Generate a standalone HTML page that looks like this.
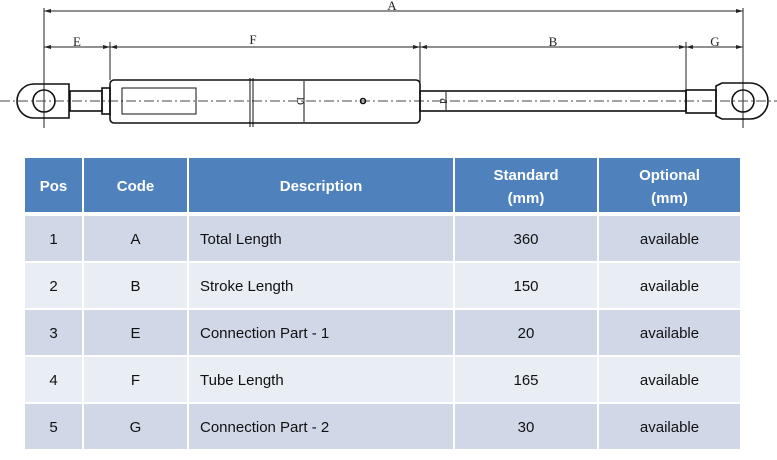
<!DOCTYPE html>
<html><head><meta charset="utf-8"><style>
body{margin:0;width:777px;height:460px;background:#fff;position:relative;overflow:hidden;font-family:"Liberation Sans",sans-serif}
.c{position:absolute;display:flex;align-items:center;justify-content:center;font-size:15px;color:#111;text-align:center;padding-top:2px;box-sizing:border-box}
.h{background:#4f81bd;color:#fff;font-weight:bold;line-height:23px;padding-top:3px}
.o{background:#d0d8e8}.e{background:#e9edf4}
.l{justify-content:flex-start;padding-left:11px}
</style></head><body>
<svg width="777" height="150" style="position:absolute;left:0;top:0" font-family="Liberation Serif" font-size="13">
<g stroke="#222" stroke-width="1" fill="none">
<line x1="44" y1="8" x2="44" y2="128"/><line x1="743" y1="8" x2="743" y2="128"/>
<line x1="110" y1="42" x2="110" y2="80"/><line x1="420" y1="42" x2="420" y2="82"/><line x1="686" y1="42" x2="686" y2="90"/>
<line x1="44" y1="11" x2="743" y2="11"/>
<line x1="44" y1="47" x2="743" y2="47"/>
</g>
<g fill="#222">
<path d="M44 11 l7 -2 v4z"/><path d="M743 11 l-7 -2 v4z"/>
<path d="M44 47 l7 -2 v4z"/><path d="M110 47 l-7 -2 v4z"/><path d="M110 47 l7 -2 v4z"/>
<path d="M420 47 l-7 -2 v4z"/><path d="M420 47 l7 -2 v4z"/><path d="M686 47 l-7 -2 v4z"/><path d="M686 47 l7 -2 v4z"/><path d="M743 47 l-7 -2 v4z"/>
</g>
<g fill="#222" text-anchor="middle">
<text x="392" y="10">A</text><text x="77" y="46">E</text><text x="253" y="44">F</text><text x="553" y="46">B</text><text x="715" y="46">G</text>
</g>
<line x1="0" y1="101" x2="777" y2="101" stroke="#444" stroke-dasharray="10,3,2,3"/>
<g stroke="#111" stroke-width="1.6" fill="none">
<path d="M34 84 h35 v34 h-35 a17 17 0 0 1 0 -34z"/>
<circle cx="44" cy="101" r="11"/>
<rect x="70" y="91" width="32" height="20"/>
<rect x="102" y="88" width="8" height="26"/>
<rect x="110" y="80" width="310" height="43" rx="4"/>
<rect x="122" y="88" width="74" height="26" stroke-width="1"/>
<rect x="420" y="91" width="266" height="20"/>
<rect x="686" y="90" width="30" height="23"/>
<path d="M716 86 l6 -3 h28 a18 18 0 0 1 0 36 h-28 l-6 -3z"/>
<circle cx="743" cy="101" r="11"/>
<line x1="250" y1="78" x2="250" y2="127" stroke-width="1"/><line x1="253" y1="78" x2="253" y2="127" stroke-width="1"/>
<line x1="304" y1="81" x2="304" y2="122" stroke-width="1"/>
<circle cx="363" cy="101" r="2.5"/>
<line x1="446" y1="92" x2="446" y2="110" stroke-width="1"/>
</g>
<text x="297" y="101" font-size="11" transform="rotate(90 297 101)" fill="#222" text-anchor="middle">D</text>
<text x="440" y="101" font-size="11" transform="rotate(90 440 101)" fill="#222" text-anchor="middle">d</text>
</svg>
<div class="c h" style="left:25px;top:158px;width:57px;height:54px">Pos</div>
<div class="c h" style="left:84px;top:158px;width:103px;height:54px">Code</div>
<div class="c h" style="left:189px;top:158px;width:264px;height:54px">Description</div>
<div class="c h" style="left:455px;top:158px;width:142px;height:54px">Standard<br>(mm)</div>
<div class="c h" style="left:599px;top:158px;width:141px;height:54px">Optional<br>(mm)</div>

<div class="c o" style="left:25px;top:216px;width:57px;height:45px">1</div>
<div class="c o" style="left:84px;top:216px;width:103px;height:45px">A</div>
<div class="c o l" style="left:189px;top:216px;width:264px;height:45px">Total Length</div>
<div class="c o" style="left:455px;top:216px;width:142px;height:45px">360</div>
<div class="c o" style="left:599px;top:216px;width:141px;height:45px">available</div>

<div class="c e" style="left:25px;top:263px;width:57px;height:45px">2</div>
<div class="c e" style="left:84px;top:263px;width:103px;height:45px">B</div>
<div class="c e l" style="left:189px;top:263px;width:264px;height:45px">Stroke Length</div>
<div class="c e" style="left:455px;top:263px;width:142px;height:45px">150</div>
<div class="c e" style="left:599px;top:263px;width:141px;height:45px">available</div>

<div class="c o" style="left:25px;top:310px;width:57px;height:45px">3</div>
<div class="c o" style="left:84px;top:310px;width:103px;height:45px">E</div>
<div class="c o l" style="left:189px;top:310px;width:264px;height:45px">Connection Part - 1</div>
<div class="c o" style="left:455px;top:310px;width:142px;height:45px">20</div>
<div class="c o" style="left:599px;top:310px;width:141px;height:45px">available</div>

<div class="c e" style="left:25px;top:357px;width:57px;height:45px">4</div>
<div class="c e" style="left:84px;top:357px;width:103px;height:45px">F</div>
<div class="c e l" style="left:189px;top:357px;width:264px;height:45px">Tube Length</div>
<div class="c e" style="left:455px;top:357px;width:142px;height:45px">165</div>
<div class="c e" style="left:599px;top:357px;width:141px;height:45px">available</div>

<div class="c o" style="left:25px;top:404px;width:57px;height:45px">5</div>
<div class="c o" style="left:84px;top:404px;width:103px;height:45px">G</div>
<div class="c o l" style="left:189px;top:404px;width:264px;height:45px">Connection Part - 2</div>
<div class="c o" style="left:455px;top:404px;width:142px;height:45px">30</div>
<div class="c o" style="left:599px;top:404px;width:141px;height:45px">available</div>
</body></html>
